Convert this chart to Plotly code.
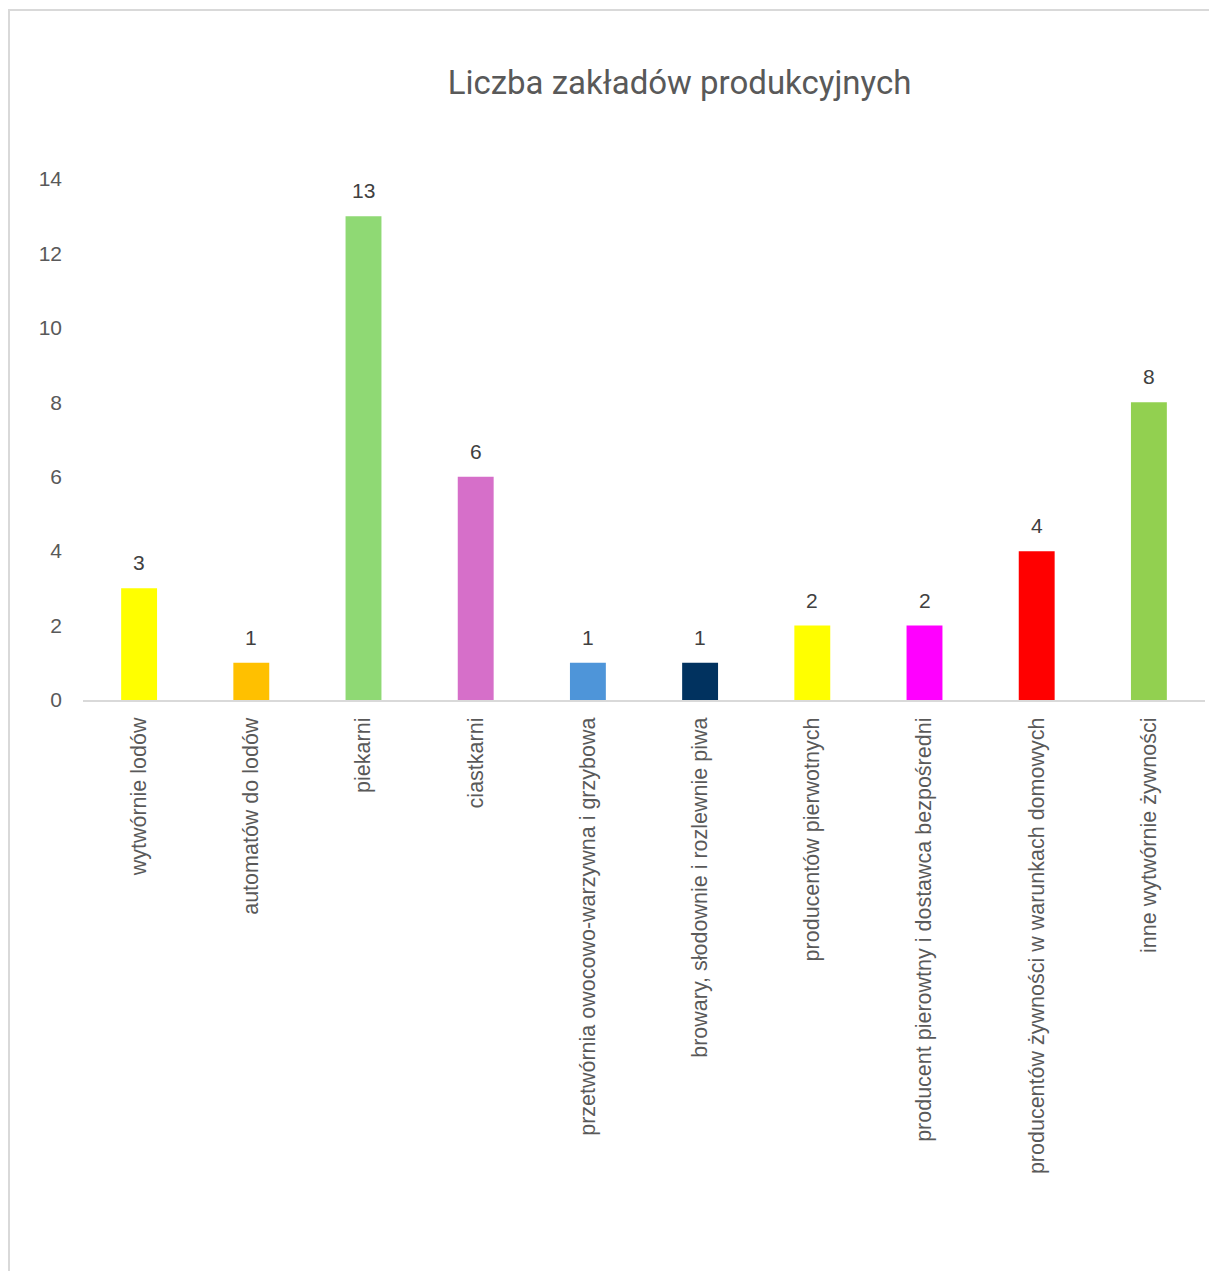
import plotly.graph_objects as go

# data
categories = [
    "wytwórnie lodów",
    "automatów do lodów",
    "piekarni",
    "ciastkarni",
    "przetwórnia owocowo-warzywna i grzybowa",
    "browary, słodownie i rozlewnie piwa",
    "producentów pierwotnych",
    "producent pierowtny i dostawca bezpośredni",
    "producentów żywności w warunkach domowych",
    "inne wytwórnie żywności",
]
counts = [3, 1, 13, 6, 1, 1, 2, 2, 4, 8]
bar_colors = [
    "#FFFF00", "#FFC000", "#8FD974", "#D66FC9", "#4E95D9",
    "#01325F", "#FFFF00", "#FF00FF", "#FF0000", "#92D050",
]
y_ticks = [0, 2, 4, 6, 8, 10, 12, 14]

TXT = "#595959"
FONT = "Liberation Sans, Arial, sans-serif"

# the page body adds an 8px margin, so the figure is drawn 8px smaller / shifted
OFF = 8
W, H = 1217 - OFF, 1271 - OFF
M_L, M_R, M_T, M_B = 83 - OFF, 12, 179 - OFF, 571
PW, PH = W - M_L - M_R, H - M_T - M_B


def px_x(x):
    # x in reference-image pixels -> paper coords
    return (x - OFF - M_L) / PW


def px_y(y):
    return (H - M_B - (y - OFF)) / PH


fig = go.Figure(
    go.Bar(
        x=categories,
        y=counts,
        width=0.32,
        marker={"color": bar_colors, "line": {"width": 0}},
        hoverinfo="x+y",
    )
)

for cat, val in zip(categories, counts):
    fig.add_annotation(
        x=cat, y=val, text=str(val), showarrow=False,
        yanchor="bottom", yshift=12,
        font={"family": FONT, "size": 21, "color": "#404040"},
    )

# chart-area frame, like the Excel export (right/bottom edges run off the image)
fig.add_shape(
    type="rect", xref="paper", yref="paper",
    x0=px_x(9), x1=px_x(1240), y0=px_y(1300), y1=px_y(10),
    line={"color": "#D9D9D9", "width": 2}, layer="below",
)

fig.update_layout(
    width=W,
    height=H,
    autosize=False,
    margin={"l": M_L, "r": M_R, "t": M_T, "b": M_B, "pad": 0},
    paper_bgcolor="white",
    plot_bgcolor="white",
    showlegend=False,
    title={
        "text": "Liczba zakładów produkcyjnych",
        "x": (679.5 - OFF) / W,
        "xanchor": "center",
        "y": 1 - (82 - OFF) / H,
        "yanchor": "middle",
        "font": {"family": "Roboto, Liberation Sans, sans-serif", "size": 33, "color": TXT},
    },
    xaxis=go.layout.XAxis(
        type="category",
        tickangle=-90,
        ticks="",
        showgrid=False,
        showline=True,
        linecolor="#D9D9D9",
        linewidth=2,
        tickfont={"family": FONT, "size": 21.5, "color": TXT},
        ticklabelstandoff=7,
        fixedrange=True,
    ),
    yaxis=go.layout.YAxis(
        range=[0, 14],
        tickvals=y_ticks,
        ticks="",
        showgrid=False,
        zeroline=False,
        showline=False,
        tickfont={"family": FONT, "size": 21, "color": TXT},
        ticklabelstandoff=20,
        fixedrange=True,
    ),
)

fig.write_html("out.html")
